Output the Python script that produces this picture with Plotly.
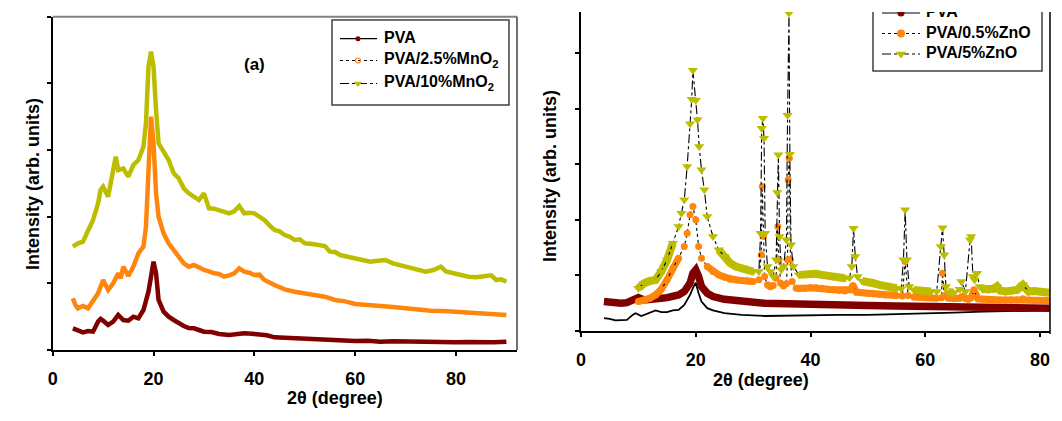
import plotly.graph_objects as go

W, H = 1062, 421
FONT = "Liberation Sans, Arial, sans-serif"

C_PVA = "#800000"
C_ORANGE = "#FF860D"
C_YELLOW = "#BDBD00"

# ---------------- panel (a): PVA / MnO2 ----------------
a_pva_x = [4, 5, 6, 7, 8, 9, 9.5, 10, 11, 12, 13, 14, 15, 16, 17, 18, 19, 19.5, 20, 20.5,
           21, 22, 23, 24, 25, 26, 27, 28, 29, 30, 31.5, 33, 35, 36.5, 38, 39.5, 41, 42.5, 44, 45.5,
           47, 48.5, 50, 52.5, 55, 57.5, 60, 62.5, 65, 67.5, 70, 72.5, 75, 77.5, 80, 82.5, 85, 87.5, 90]
a_pva_y = [0.325, 0.30, 0.265, 0.285, 0.275, 0.425, 0.465, 0.44, 0.375, 0.425,
           0.525, 0.45, 0.44, 0.50, 0.475, 0.60, 0.875, 1.10, 1.325, 1.15,
           0.75, 0.575, 0.50, 0.45, 0.40, 0.36, 0.33, 0.325, 0.30, 0.275,
           0.27, 0.24, 0.225, 0.24, 0.25, 0.245, 0.24, 0.22, 0.19, 0.185,
           0.175, 0.17, 0.16, 0.165, 0.15, 0.145, 0.135, 0.14, 0.125, 0.13,
           0.125, 0.12, 0.115, 0.12, 0.115, 0.12, 0.11, 0.115, 0.125]

a_mn25_x = [4, 4.5, 5, 6, 7, 8, 9, 10, 11, 12, 13, 13.5, 14, 15, 16, 17, 18, 18.5, 19, 19.5,
            20, 20.5, 21, 22, 23, 24, 25, 26, 27, 28, 29, 30, 31, 32, 33, 34, 35, 36, 37, 38,
            39, 40, 41, 42, 44, 46, 48, 50, 52, 54, 56, 58, 60, 62.5, 65, 67.5, 70, 72.5, 75, 77.5,
            80, 82.5, 85, 87.5, 90]
a_mn25_y = [0.775, 0.675, 0.625, 0.66, 0.625, 0.725, 0.85, 1.05, 0.90, 1.00,
            1.15, 1.075, 1.25, 1.11, 1.25, 1.45, 1.55, 1.85, 2.65, 3.50,
            3.10, 2.35, 2.00, 1.75, 1.60, 1.50, 1.40, 1.30, 1.25, 1.275,
            1.24, 1.20, 1.18, 1.15, 1.14, 1.10, 1.12, 1.15, 1.225, 1.175,
            1.16, 1.125, 1.13, 1.05, 0.975, 0.91, 0.875, 0.85, 0.83, 0.80,
            0.75, 0.73, 0.69, 0.68, 0.66, 0.645, 0.625, 0.60, 0.59, 0.585,
            0.575, 0.565, 0.55, 0.535, 0.525]

a_mn10_x = [4, 5, 6, 7, 8, 9, 9.5, 10, 11, 12, 12.5, 13, 14, 15, 16, 17, 18, 18.5, 19, 19.5,
            20, 20.5, 21, 22, 23, 24, 25, 26, 27, 28, 29, 30, 31, 32, 33, 34, 35, 36, 37, 38,
            39, 40, 41, 42, 43, 44, 45, 46, 47, 48, 49, 50, 51.5, 53, 54, 55, 56, 57, 58.5, 60,
            61.5, 63, 64.5, 66, 67.5, 69, 70, 71.5, 73, 74, 75.5, 77, 78, 79.5, 81, 82.5, 84, 85.5,
            87, 88, 89, 90]
a_mn10_y = [1.55, 1.60, 1.625, 1.80, 1.95, 2.20, 2.40, 2.45, 2.30, 2.70,
            2.90, 2.70, 2.725, 2.60, 2.775, 2.85, 3.05, 3.40, 4.25, 4.475,
            4.25, 3.60, 3.10, 2.975, 2.85, 2.65, 2.575, 2.425, 2.35, 2.30,
            2.25, 2.35, 2.125, 2.12, 2.10, 2.08, 2.05, 2.08, 2.16, 2.05,
            2.06, 2.05, 2.00, 1.95, 1.87, 1.80, 1.78, 1.725, 1.70, 1.65,
            1.66, 1.60, 1.59, 1.575, 1.56, 1.475, 1.47, 1.425, 1.40, 1.375,
            1.36, 1.325, 1.34, 1.35, 1.30, 1.27, 1.25, 1.23, 1.20, 1.175,
            1.20, 1.25, 1.18, 1.15, 1.125, 1.10, 1.09, 1.10,
            1.12, 1.05, 1.06, 1.025]

# ---------------- panel (b): PVA / ZnO ----------------
b_base_x = [4, 5, 6, 7, 8, 9, 9.5, 10.5, 11, 12, 13, 14, 15, 16, 17, 18, 19, 19.5, 20, 20.5,
            21, 22, 23, 25, 28, 32, 36, 40, 45, 50, 55, 60, 65, 70, 75, 80, 81.7]
b_base_y = [0.23, 0.22, 0.19, 0.20, 0.20, 0.29, 0.32, 0.27, 0.29, 0.32,
            0.37, 0.34, 0.34, 0.37, 0.38, 0.47, 0.65, 0.77, 0.87, 0.68,
            0.53, 0.41, 0.37, 0.32, 0.29, 0.27, 0.28, 0.29, 0.29, 0.29,
            0.30, 0.32, 0.33, 0.35, 0.36, 0.37, 0.37]

b_pva_x = [4, 5, 6, 7, 8, 9, 10, 11, 12, 13, 14, 15, 16, 17, 18, 19, 19.5, 20, 20.5, 21,
           22, 23, 25, 28, 32, 36, 40, 45, 50, 55, 60, 65, 70, 75, 80, 81.7]
b_pva_y = [0.53, 0.51, 0.49, 0.50, 0.51, 0.56, 0.60, 0.56, 0.58, 0.60,
           0.59, 0.60, 0.62, 0.65, 0.71, 0.86, 1.04, 1.10, 0.98, 0.80,
           0.68, 0.62, 0.57, 0.53, 0.50, 0.49, 0.49, 0.47, 0.46, 0.45,
           0.44, 0.43, 0.42, 0.41, 0.41, 0.41]

b_zn05_x = [10, 11, 12, 13, 14, 15, 16, 17, 18, 18.5, 19, 19.5, 20, 20.5, 21, 22, 23, 24, 25, 26,
            27, 28, 29, 30, 31, 31.4, 31.6, 31.8, 32.0, 32.5, 33, 33.5, 34.0, 34.3, 34.5, 34.8, 35.3, 35.8, 36.0, 36.1,
            36.3, 36.5, 36.8, 37.5, 38, 39, 40, 41, 42, 43, 44, 45, 46, 47, 47.4, 48, 49, 50, 51, 52,
            53, 54, 55, 56, 56.5, 57, 58, 59, 60, 61, 62, 62.8, 63, 63.3, 64, 65, 66, 66.5, 67, 67.5,
            68, 68.5, 69.2, 70, 71, 72, 73, 74, 75, 76, 77, 78, 79, 80, 81, 81.7]
b_zn05_y = [0.53, 0.55, 0.59, 0.65, 0.75, 0.92, 1.13, 1.31, 1.52, 1.76, 2.09, 2.24, 2.00, 1.52, 1.31, 1.16, 1.07, 1.01, 0.97, 0.93,
            0.92, 0.91, 0.90, 0.89, 0.92, 1.37, 2.60, 1.70, 0.98, 0.83, 0.80, 0.82, 0.95, 1.88, 1.28, 0.86, 0.81, 0.85, 1.28, 2.72,
            3.11, 1.28, 0.89, 0.77, 0.76, 0.77, 0.78, 0.78, 0.77, 0.75, 0.74, 0.73, 0.72, 0.74, 0.82, 0.70, 0.69, 0.68, 0.67, 0.66,
            0.65, 0.65, 0.64, 0.63, 1.25, 0.64, 0.61, 0.61, 0.60, 0.60, 0.59, 0.60, 1.04, 0.64, 0.59, 0.58, 0.59, 0.62, 0.58, 0.57,
            0.60, 0.74, 0.58, 0.57, 0.56, 0.56, 0.56, 0.56, 0.56, 0.56, 0.58, 0.56, 0.55, 0.55, 0.55, 0.55]

b_zn5_x = [10, 11, 12, 13, 14, 15, 16, 17, 17.5, 18, 18.5, 19, 19.3, 19.5, 20, 20.3, 20.6, 21, 21.5, 22,
           23, 24, 25, 26, 27, 28, 29, 30, 31, 31.3, 31.5, 31.7, 31.9, 32.1, 32.5, 33, 33.5, 34.0, 34.2, 34.4,
           34.6, 34.9, 35.3, 35.8, 36.0, 36.25, 36.4, 36.6, 37, 38, 39, 40, 41, 42, 43, 44, 45, 46, 46.8, 47.2,
           47.5, 47.8, 48.2, 49, 50, 51, 52, 53, 54, 55, 55.8, 56.2, 56.5, 56.8, 57.2, 58, 59, 60, 61, 62,
           62.7, 63, 63.3, 63.6, 64, 65, 66, 66.3, 67, 67.8, 68, 68.3, 68.6, 69, 69.5, 70, 71, 72, 72.5, 73,
           74, 75, 76, 77, 78, 79, 80, 81, 81.7]
b_zn5_y = [0.77, 0.86, 0.90, 0.92, 1.07, 1.28, 1.58, 1.88, 2.12, 2.36, 2.96, 3.73, 4.17, 4.69, 4.15, 3.80, 3.32, 2.90, 2.54, 2.06,
           1.70, 1.46, 1.34, 1.22, 1.16, 1.13, 1.10, 1.07, 1.07, 1.76, 3.65, 3.83, 3.47, 1.76, 1.16, 1.07, 0.98, 1.28, 2.49, 3.17,
           1.70, 1.10, 1.16, 1.64, 3.88, 5.72, 3.18, 1.55, 1.16, 1.01, 1.02, 1.04, 1.03, 1.01, 1.00, 0.98, 0.97, 0.95, 0.96, 1.16,
           1.85, 1.34, 0.98, 0.90, 0.89, 0.86, 0.83, 0.81, 0.79, 0.77, 0.76, 1.28, 2.18, 1.28, 0.80, 0.74, 0.72, 0.71, 0.71, 0.71,
           1.52, 1.86, 1.37, 0.80, 0.70, 0.69, 0.75, 0.89, 0.71, 1.64, 1.70, 0.98, 0.92, 1.04, 0.80, 0.75, 0.74, 0.76, 0.80, 0.73,
           0.71, 0.72, 0.74, 0.83, 0.71, 0.72, 0.71, 0.70, 0.69]

x_ticks = [0, 20, 40, 60, 80]
y_ticks = [0, 1, 2, 3, 4, 5]

# plot-area boxes in pixels: left, top, right, bottom
BOX_A = (52.7, 16.7, 517.0, 350.0)
BOX_B = (581.0, 12.0, 1050.0, 331.0)
XR_A, YR_A = [0, 92.1], [0, 5]
XR_B, YR_B = [0, 81.74], [0, 5.74]

# where the on-screen slope of a curve is steeper than this, its samples
# show up as separate symbols instead of a continuous band
STEEP = 3.0


def dom(box):
    l, t, r, b = box
    return [l / W, r / W], [1 - b / H, 1 - t / H]


def to_data(px, py, box, xr, yr):
    l, t, r, b = box
    x = xr[0] + (px - l) / (r - l) * (xr[1] - xr[0])
    y = yr[0] + (b - py) / (b - t) * (yr[1] - yr[0])
    return x, y


def band_part(xs, ys, box, xr, yr):
    l, t, r, b = box
    sx = (r - l) / (xr[1] - xr[0])
    sy = (b - t) / (yr[1] - yr[0])
    out = []
    for i in range(len(xs)):
        steep = False
        for j in (i - 1, i + 1):
            if 0 <= j < len(xs):
                s = abs(ys[j] - ys[i]) * sy / (abs(xs[j] - xs[i]) * sx)
                steep = steep or s > STEEP
        out.append(None if steep else ys[i])
    return out


fig = go.Figure()

# panel (a) curves
for xs, ys, col in [(a_pva_x, a_pva_y, C_PVA), (a_mn25_x, a_mn25_y, C_ORANGE), (a_mn10_x, a_mn10_y, C_YELLOW)]:
    fig.add_trace(go.Scatter(x=xs, y=ys, mode="lines", line=dict(color=col, width=4.5),
                             xaxis="x", yaxis="y", showlegend=False, hoverinfo="skip"))

# panel (b) curves
fig.add_trace(go.Scatter(x=b_base_x, y=b_base_y, mode="lines", line=dict(color="black", width=1.8),
                         xaxis="x2", yaxis="y2", showlegend=False))
fig.add_trace(go.Scatter(x=b_pva_x, y=b_pva_y, mode="lines", line=dict(color=C_PVA, width=7.5),
                         xaxis="x2", yaxis="y2", showlegend=False))

for xs, ys, col, sym, msize, dash, band_w in [
        (b_zn05_x, b_zn05_y, C_ORANGE, "circle", 7, "dot", 7),
        (b_zn5_x, b_zn5_y, C_YELLOW, "triangle-down", 9, "dashdot", 8)]:
    fig.add_trace(go.Scatter(x=xs, y=band_part(xs, ys, BOX_B, XR_B, YR_B), mode="lines",
                             connectgaps=False, line=dict(color=col, width=band_w),
                             xaxis="x2", yaxis="y2", showlegend=False, hoverinfo="skip"))
    fig.add_trace(go.Scatter(x=xs, y=ys, mode="lines+markers",
                             line=dict(color="black", width=1.1, dash=dash),
                             marker=dict(symbol=sym, size=msize, color=col, line=dict(width=0)),
                             xaxis="x2", yaxis="y2", showlegend=False))


def add_key(box, xr, yr, xa, ya, rows, x_line, x_mark, x_text):
    for label, col, sym, msize, dash, py in rows:
        lx0, ly = to_data(x_line[0], py, box, xr, yr)
        lx1, _ = to_data(x_line[1], py, box, xr, yr)
        mx, _ = to_data(x_mark, py, box, xr, yr)
        tx, ty = to_data(x_text, py, box, xr, yr)
        fig.add_trace(go.Scatter(x=[lx0, lx1], y=[ly, ly], mode="lines",
                                 line=dict(color="black", width=1.2, dash=dash),
                                 xaxis=xa, yaxis=ya, showlegend=False, hoverinfo="skip"))
        fig.add_trace(go.Scatter(x=[mx], y=[ly], mode="markers",
                                 marker=dict(symbol=sym, size=msize, color=col,
                                             line=dict(width=1.2 if sym.endswith("open") else 0, color=col)),
                                 xaxis=xa, yaxis=ya, showlegend=False, hoverinfo="skip"))
        fig.add_trace(go.Scatter(x=[tx], y=[ty], mode="text", text=["<b>" + label + "</b>"],
                                 textposition="middle right",
                                 textfont=dict(family=FONT, size=16, color="black"),
                                 xaxis=xa, yaxis=ya, showlegend=False, hoverinfo="skip"))


add_key(BOX_A, XR_A, YR_A, "x", "y",
        [("PVA", C_PVA, "circle", 5, "solid", 38.7),
         ("PVA/2.5%MnO<sub>2</sub>", C_ORANGE, "circle-open", 5, "dot", 60.5),
         ("PVA/10%MnO<sub>2</sub>", C_YELLOW, "triangle-down", 7, "dashdot", 83.5)],
        (340, 377), 358, 384)

add_key(BOX_B, XR_B, YR_B, "x2", "y2",
        [("PVA", C_PVA, "circle", 7, "solid", 13.0),
         ("PVA/0.5%ZnO", C_ORANGE, "circle", 8, "dot", 33.5),
         ("PVA/5%ZnO", C_YELLOW, "triangle-down", 9, "dashdot", 54.0)],
        (882, 920), 901, 926)

# key frames
kb0 = to_data(873, -6, BOX_B, XR_B, YR_B)
kb1 = to_data(1042, 71, BOX_B, XR_B, YR_B)
shapes = [
    dict(type="rect", xref="paper", yref="paper", x0=332 / W, x1=509 / W, y0=1 - 105 / H, y1=1 - 20 / H,
         line=dict(color="#404040", width=1.5), fillcolor="white", layer="below"),
    dict(type="rect", xref="x2", yref="y2", x0=kb0[0], x1=kb1[0], y0=kb1[1], y1=kb0[1],
         line=dict(color="#404040", width=1.5), fillcolor="white", layer="below"),
    # frame lines
    dict(type="line", xref="paper", yref="paper", x0=BOX_A[0] / W, x1=BOX_A[2] / W,
         y0=1 - BOX_A[1] / H, y1=1 - BOX_A[1] / H, line=dict(color="#808080", width=2)),
    dict(type="line", xref="paper", yref="paper", x0=BOX_A[2] / W, x1=BOX_A[2] / W,
         y0=1 - BOX_A[1] / H, y1=1 - BOX_A[3] / H, line=dict(color="#404040", width=1.5)),
    dict(type="line", xref="paper", yref="paper", x0=BOX_B[2] / W, x1=BOX_B[2] / W,
         y0=1 - BOX_B[1] / H, y1=1 - (BOX_B[3] + 3) / H, line=dict(color="black", width=1.5)),
]

tick_font = dict(family=FONT, size=18, color="black", weight="bold")
title_font = dict(family=FONT, size=18, color="black", weight="bold")


def xaxis_cfg(box, xr, anchor):
    d, _ = dom(box)
    return dict(domain=d, range=xr, tickvals=x_ticks, ticks="outside", ticklen=4, tickwidth=1.5,
                tickcolor="black", showline=True, linecolor="black", linewidth=1.5,
                showgrid=False, zeroline=False, tickfont=tick_font, anchor=anchor,
                ticklabelstandoff=8)


def yaxis_cfg(box, yr, anchor):
    _, d = dom(box)
    return dict(domain=d, range=yr, tickvals=y_ticks, ticks="outside", ticklen=4, tickwidth=1.5,
                tickcolor="black", showline=True, linecolor="black", linewidth=1.5,
                showgrid=False, zeroline=False, showticklabels=False, anchor=anchor)


annotations = [
    dict(text="<b>(a)</b>", x=242 / W, y=1 - 53 / H, xref="paper", yref="paper", showarrow=False,
         font=dict(family=FONT, size=17, color="black")),
    dict(text="2θ (degree)", x=285 / W, y=1 - 410 / H, xref="paper", yref="paper", showarrow=False,
         font=title_font),
    dict(text="2θ (degree)", x=811 / W, y=1 - 392 / H, xref="paper", yref="paper", showarrow=False,
         font=title_font),
    dict(text="Intensity (arb. units)", x=21 / W, y=1 - 184 / H, xref="paper", yref="paper",
         showarrow=False, textangle=-90, font=title_font),
    dict(text="Intensity (arb. units)", x=550 / W, y=1 - 176 / H, xref="paper", yref="paper",
         showarrow=False, textangle=-90, font=title_font),
]

fig.update_layout(
    width=W, height=H,
    margin=dict(l=0, r=0, t=0, b=0, autoexpand=False),
    paper_bgcolor="white", plot_bgcolor="white",
    showlegend=False,
    xaxis=xaxis_cfg(BOX_A, XR_A, "y"),
    yaxis=yaxis_cfg(BOX_A, YR_A, "x"),
    xaxis2=xaxis_cfg(BOX_B, XR_B, "y2"),
    yaxis2=yaxis_cfg(BOX_B, YR_B, "x2"),
    shapes=shapes,
    annotations=annotations,
    font=dict(family=FONT),
)

fig.write_html("out.html")
